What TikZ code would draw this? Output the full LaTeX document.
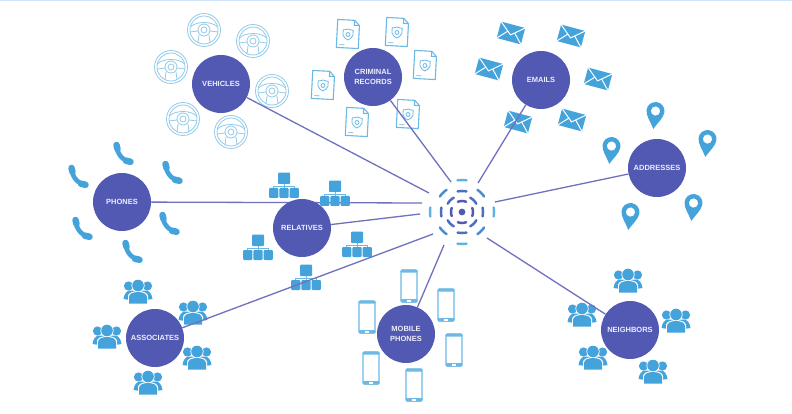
\documentclass[tikz,border=0pt]{standalone}
\usepackage{fontspec}
\setmainfont{Liberation Sans}
\definecolor{disc}{HTML}{5159B2}
\definecolor{wire}{HTML}{6F70BE}
\definecolor{icon}{HTML}{45A3DC}
\definecolor{pale}{HTML}{6DB9E6}
\definecolor{paler}{HTML}{93CBEA}
\definecolor{band}{HTML}{CFE4FA}
\newcommand{\hubarc}[4]{\draw[ringarc,color=#4] plot[smooth,samples=9,domain={#1-#2}:{#1+#2}] ([shift={(\x:#3pt)}]hub);}
\tikzset{
  x=1pt,y=-1pt,
  topic/.style={circle,fill=disc,draw=none,minimum size=58pt,inner sep=0pt,align=center,text=white!90!disc,font=\bfseries\fontsize{7.5}{9.6}\selectfont},
  link/.style={draw=wire,line width=1.3pt},
  ringarc/.style={line width=2.5pt,line cap=round},
  wheelicon/.pic={
    \begin{scope}[draw=paler,line width=.8pt]
      \draw (0,0) circle[radius=16.5pt] (0,0) circle[radius=14pt];
      \draw (0,0) circle[radius=3pt] (0,0) circle[radius=6pt];
      \draw (-13.5,-3) .. controls (-8,-9) and (8,-9) .. (13.5,-3);
      \draw (-14,2) -- (-6,1) (6,1) -- (14,2);
      \draw (-5,5) -- (-6,13) (5,5) -- (6,13);
    \end{scope}},
  docicon/.pic={
    \begin{scope}[rotate=-3,draw=pale,line width=1.1pt]
      \draw[line join=round] (-11,-14) -- (6,-14) -- (11,-9) -- (11,14) -- (-11,14) -- cycle;
      \draw (6,-14) -- (6,-9) -- (11,-9);
      \draw[line width=.8pt] (0,-5) .. controls (2,-4) and (4,-4) .. (5,-4) -- (5,1) .. controls (4,4) and (2,5) .. (0,6) .. controls (-2,5) and (-4,4) .. (-5,1) -- (-5,-4) .. controls (-4,-4) and (-2,-4) .. cycle;
      \draw[line width=.8pt] (0,0.5) circle[radius=2pt];
      \draw[line width=.7pt] (-8,11) -- (-3,11);
    \end{scope}},
  mailicon/.pic={
    \begin{scope}[rotate=-15]
      \fill[icon] (-12.5,-8.5) rectangle (12.5,8.5);
      \draw[white,line width=1pt,line join=round] (-12.5,-8.5) -- (0,2) -- (12.5,-8.5);
      \draw[white,line width=1pt] (-12.5,8.5) -- (-3.5,-1) (12.5,8.5) -- (3.5,-1);
    \end{scope}},
  pinicon/.pic={
    \begin{scope}[rotate=-7]
      \fill[icon,even odd rule] (0,14) .. controls (-3,8) and (-9,2) .. (-9,-4) .. controls (-9,-9) and (-5,-13) .. (0,-13) .. controls (5,-13) and (9,-9) .. (9,-4) .. controls (9,2) and (3,8) .. (0,14) -- cycle (0,-4) circle[radius=4.7pt];
    \end{scope}},
  callicon/.pic={
    \draw[icon,line width=4.6pt,line cap=round] (-6,-8) .. controls (-6,0) and (0,7) .. (7,7);
    \draw[icon,line width=6.5pt,line cap=round] (-6.5,-9) -- (-5.5,-5);
    \draw[icon,line width=6.5pt,line cap=round] (3,6.8) -- (7.5,7.8);},
  orgicon/.pic={
    \draw[pale,line width=.7pt] (0,-1) -- (0,3) (-10.3,3) -- (-10.3,1) -- (10.3,1) -- (10.3,3);
    \fill[icon,rounded corners=.8pt] (-6,-12.3) rectangle (6,-1);
    \foreach \c in {-10.3,0,10.3}{\fill[icon,rounded corners=1pt] (\c-4.6,3) rectangle (\c+4.6,13);}},
  groupicon/.pic={
    \fill[icon] (-9.5,-6) circle[radius=4.6pt] (9.5,-6) circle[radius=4.6pt];
    \fill[icon] (-14.5,7) .. controls (-14,2) and (-11,-1.5) .. (-8,-1.5) -- (8,-1.5) .. controls (11,-1.5) and (14,2) .. (14.5,7) -- (8,8) -- (-8,8) -- cycle;
    \fill[white] (0,-6.5) circle[radius=6.6pt];
    \fill[white] (-10,12) -- (-10,4) .. controls (-10,1) and (-5,-1) .. (0,-1) .. controls (5,-1) and (10,1) .. (10,4) -- (10,12) -- cycle;
    \fill[icon] (0,-6.5) circle[radius=5.8pt];
    \fill[icon] (-9,11.5) -- (-9,5) .. controls (-9,2) and (-5,0) .. (0,0) .. controls (5,0) and (9,2) .. (9,5) -- (9,11.5) -- cycle;},
  mobileicon/.pic={
    \draw[pale,line width=1.1pt,rounded corners=1.5pt] (-8,-16) rectangle (8,16);
    \fill[pale,rounded corners=1pt] (-8.5,-16.5) rectangle (8.5,-13.5);
    \fill[pale,rounded corners=1pt] (-8.5,13) rectangle (8.5,16.5);
    \fill[white] (-1.6,13.8) rectangle (1.6,15.8);},
}
\begin{document}
\begin{tikzpicture}
\useasboundingbox (0,0) rectangle (792,414);
\fill[white] (0,0) rectangle (792,414);
\fill[band] (0,0) rectangle (792,1.5);
% vehicles
\foreach \p in {(204,30),(253,41),(171,67),(272,91),(183,119),(231,132)} \pic at \p {wheelicon};
% records
\foreach \p in {(348,34),(397,32),(425,65),(323,85),(408,114),(357,122)} \pic at \p {docicon};
% emails
\foreach \p in {(511,33),(571,36),(489,69),(598,79),(518,122),(572,120)} \pic at \p {mailicon};
% addresses
\foreach \p in {(655,115),(707,143),(611,150),(693,207),(630,216)} \pic at \p {pinicon};
% phones
\foreach \p in {(123,154),(172,173),(78,177),(169,224),(82,229),(132,252)} \pic at \p {callicon};
% relatives
\foreach \p in {(284,185),(258,247),(357,244),(306,277)} \pic at \p {orgicon};
% associates and neighbors
\foreach \p in {(138,292),(193,313),(107,337),(197,358),(148,383),(628,281),(582,315),(676,321),(593,358),(653,372)} \pic at \p {groupicon};
% mobile phones
\foreach \p in {(409,286),(446,305),(367,317),(454,350),(371,368),(414,385)} \pic at \p {mobileicon};

\coordinate (hub) at (462,212);
\coordinate (endV) at (429,193);
\coordinate (endC) at (451,182);
\coordinate (endE) at (478,183);
\coordinate (endA) at (495,202);
\coordinate (endP) at (422,203);
\coordinate (endR) at (420,214);
\coordinate (endS) at (433,234);
\coordinate (endM) at (444,245);
\coordinate (endN) at (487,238);

\node[topic] (vehicles) at (221,84) {VEHICLES};
\node[topic] (records) at (373,77) {CRIMINAL\\RECORDS};
\node[topic] (emails) at (541,80) {EMAILS};
\node[topic] (addresses) at (657,168) {ADDRESSES};
\node[topic] (phones) at (122,202) {PHONES};
\node[topic] (associates) at (155,338) {ASSOCIATES};
\node[topic] (mobiles) at (406,334) {MOBILE\\PHONES};
\node[topic] (neighbors) at (630,330) {NEIGHBORS};

\draw[link] (endV) -- (vehicles);
\draw[link] (endC) -- (records);
\draw[link] (endE) -- (emails);
\draw[link] (endA) -- (addresses);
\draw[link] (endP) -- (phones);
\draw[link] (endS) -- (associates);
\draw[link] (endM) -- (mobiles);
\draw[link] (endN) -- (neighbors);
\pic at (335,193) {orgicon};
\node[topic] (relatives) at (302,228) {RELATIVES};
\draw[link] (endR) -- (relatives);

% hub
\fill[disc] (hub) circle[radius=3.4pt];
\foreach \a in {0,90,180,270}{
  \hubarc{\a}{22}{11}{disc}
  \hubarc{\a}{12}{21}{disc!70!icon}
  \hubarc{\a}{8}{32}{icon!85!white}
  \hubarc{\a+45}{15}{16.5}{disc!70!icon}
  \hubarc{\a+45}{10}{27}{disc!30!icon}
}
\end{tikzpicture}
\end{document}
